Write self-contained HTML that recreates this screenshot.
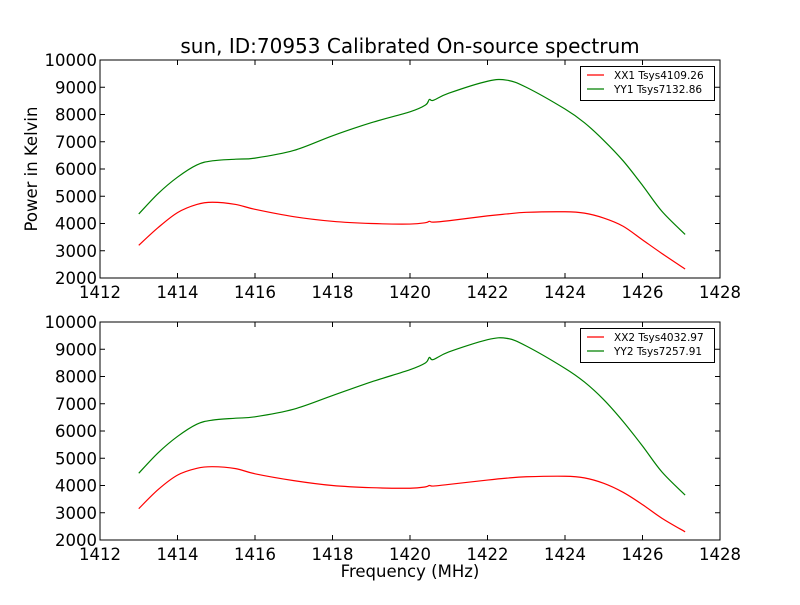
<!DOCTYPE html>
<html><head><meta charset="utf-8"><style>
body{margin:0;background:#fff;}
svg text{font-family:"DejaVu Sans","Liberation Sans",sans-serif;}
</style></head><body>
<svg id="chart" width="800" height="600" xmlns="http://www.w3.org/2000/svg">
<rect width="800" height="600" fill="#fff"/>
<text x="410" y="53" font-size="20" text-anchor="middle">sun, ID:70953 Calibrated On-source spectrum</text>
<text transform="translate(37,169) rotate(-90)" font-size="16.5" text-anchor="middle">Power in Kelvin</text>
<text x="410" y="577" font-size="16.5" text-anchor="middle">Frequency (MHz)</text>
</svg>
<script>
const freqs=[1413,1413.5,1414,1414.5,1414.9,1415.5,1416,1417,1418,1419,1420,1420.4,1420.5,1420.6,1421,1422,1422.5,1423,1424,1424.5,1425,1425.5,1426,1426.5,1427.1];
const xx1=[3200,3850,4400,4700,4780,4700,4520,4250,4080,4000,3980,4030,4080,4050,4100,4280,4350,4410,4430,4380,4200,3900,3400,2900,2330];
const yy1=[4350,5100,5700,6150,6300,6360,6400,6680,7220,7700,8100,8350,8550,8520,8780,9220,9260,9000,8200,7700,7050,6300,5400,4450,3600];
const xx2=[3150,3850,4380,4630,4690,4620,4430,4180,4000,3920,3900,3950,4000,3980,4040,4200,4270,4320,4340,4280,4080,3750,3300,2800,2300];
const yy2=[4450,5200,5800,6250,6400,6470,6520,6800,7300,7800,8250,8500,8700,8620,8900,9350,9400,9120,8300,7800,7150,6350,5450,4500,3650];
const xTicks=[1412,1414,1416,1418,1420,1422,1424,1426,1428];
const yTicks=[2000,3000,4000,5000,6000,7000,8000,9000,10000];
const panels=[{top:60,bot:278,a:xx1,b:yy1,la:"XX1 Tsys4109.26",lb:"YY1 Tsys7132.86",n:"top"},
{top:322,bot:540,a:xx2,b:yy2,la:"XX2 Tsys4032.97",lb:"YY2 Tsys7257.91",n:"bottom"}];
const svg=document.getElementById('chart');const NS="http://www.w3.org/2000/svg";
const L=100,R=720;
function xs(f){return L+(f-1412)/(16)*(R-L);}
function mk(t,at,p){const e=document.createElementNS(NS,t);for(const k in at)e.setAttribute(k,at[k]);(p||svg).appendChild(e);return e;}
function path(pts){let d="M"+pts[0][0]+","+pts[0][1];for(let i=0;i<pts.length-1;i++){const p0=pts[Math.max(0,i-1)],p1=pts[i],p2=pts[i+1],p3=pts[Math.min(pts.length-1,i+2)];
const c1=[p1[0]+(p2[0]-p0[0])/6,p1[1]+(p2[1]-p0[1])/6],c2=[p2[0]-(p3[0]-p1[0])/6,p2[1]-(p3[1]-p1[1])/6];d+=" C"+c1+" "+c2+" "+p2;}return d;}
panels.forEach(P=>{
 const ys=v=>P.bot-(v-2000)/8000*(P.bot-P.top);
 const g=mk('g',{});
 
 
 xTicks.forEach(t=>{const x=xs(t);mk('line',{x1:x,x2:x,y1:P.bot,y2:P.bot-5,stroke:'#000'},g);mk('line',{x1:x,x2:x,y1:P.top,y2:P.top+5,stroke:'#000'},g);
  const tx=mk('text',{x:x,y:P.bot+20,'font-size':16.5,'text-anchor':'middle'},g);tx.textContent=t;
  
  });
 yTicks.forEach(t=>{const y=ys(t);mk('line',{x1:L,x2:L+5,y1:y,y2:y,stroke:'#000'},g);mk('line',{x1:R,x2:R-5,y1:y,y2:y,stroke:'#000'},g);
  const tx=mk('text',{x:L-3,y:y+6,'font-size':16.5,'text-anchor':'end'},g);tx.textContent=t;
  
  });
 [[P.a,'#ff0000','xx'],[P.b,'#008000','yy']].forEach(([arr,c,n])=>{
  const pe=mk('path',{d:path(arr.map((v,i)=>[xs(freqs[i]),ys(v)])),fill:'none',stroke:c,'stroke-width':1.2},g);
  
  });
 mk('rect',{x:L,y:P.top,width:R-L,height:P.bot-P.top,fill:'none',stroke:'#000'},g);
 const lg=mk('g',{},g);
 
 
 mk('rect',{x:580.5,y:P.top+6.5,width:134,height:34,fill:'#fff',stroke:'#000'},lg);
 [[P.la,'#ff0000'],[P.lb,'#008000']].forEach(([t,c],i)=>{const y=P.top+15+i*14;
  mk('line',{x1:587,x2:604,y1:y,y2:y,stroke:c,'stroke-width':1.2},lg);
  const tx=mk('text',{x:614,y:y+4,'font-size':10.5},lg);tx.textContent=t;
  
  });
});
</script>
</body></html>
